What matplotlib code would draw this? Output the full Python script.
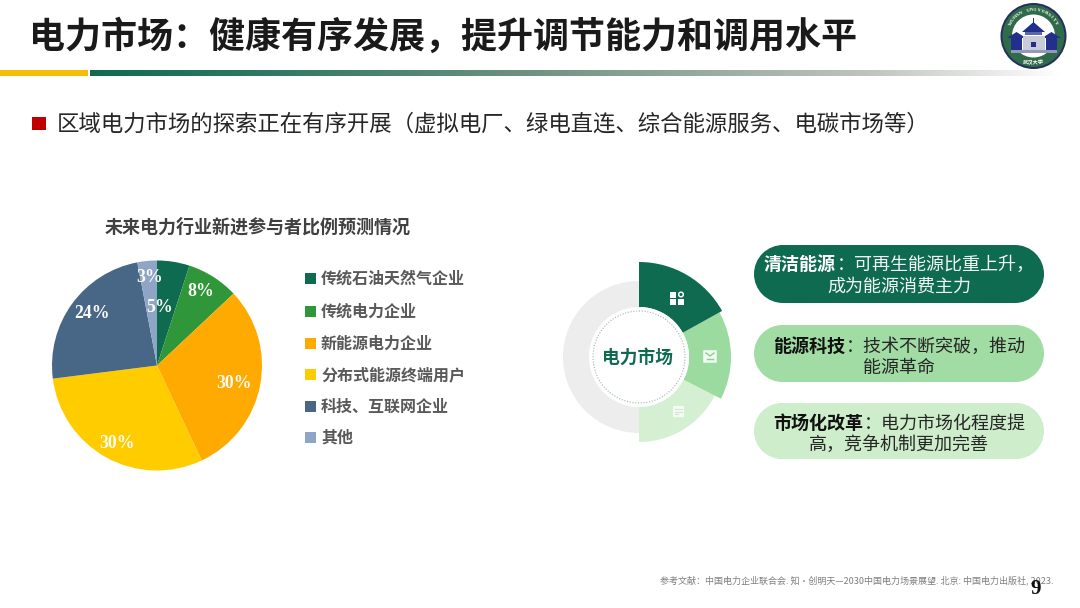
import numpy as np
import matplotlib
matplotlib.use("Agg")
import matplotlib.pyplot as plt
from matplotlib.patches import Circle, FancyBboxPatch, Polygon, Rectangle, Wedge

plt.rcParams["font.family"] = ["Noto Sans CJK SC", "DejaVu Sans"]

W, H = 1080, 608

# chart data
categories = ["传统石油天然气企业", "传统电力企业", "新能源电力企业", "分布式能源终端用户", "科技、互联网企业", "其他"]
shares = [5, 8, 30, 30, 24, 3]
pie_colors = ["#0F6B50", "#2F9639", "#FFAA00", "#FFCC00", "#486787", "#8EA5C6"]

title = "电力市场：健康有序发展，提升调节能力和调用水平"
subtitle = "区域电力市场的探索正在有序开展（虚拟电厂、绿电直连、综合能源服务、电碳市场等）"
pie_title = "未来电力行业新进参与者比例预测情况"
ring_title = "电力市场"
reference = "参考文献：中国电力企业联合会. 知·创明天—2030中国电力场景展望. 北京: 中国电力出版社, 2023."
page_no = "9"

# pill text: bold head, rest of the first line, second line
pill_heads = ["清洁能源", "能源科技", "市场化改革"]
pill_rest = ["：可再生能源比重上升，", "：技术不断突破，推动", "：电力市场化程度提"]
pill_second = ["成为能源消费主力", "能源革命", "高，竞争机制更加完善"]

fig = plt.figure(figsize=(W / 100, H / 100), dpi=100, facecolor="white")

# whole page axes in pixel coordinates, y down like the screenshot
page = fig.add_axes([0, 0, 1, 1])
page.axis("off")

page.text(29, 37, title, fontsize=25.95, fontweight="bold", color="#1A1A1A", va="center", ha="left")

# header rule: gold block, then green fading out to white
page.add_patch(Rectangle((0, 70), 88, 6, color="#F7BC0A", lw=0))
stops = np.array([0.0, 0.2, 0.45, 0.8, 1.0])
rgb = np.array([[15, 107, 80], [50, 122, 100], [110, 145, 130], [190, 195, 190], [255, 255, 255]]) / 255
t = np.linspace(0, 1, 400)
fade = np.stack([np.interp(t, stops, rgb[:, i]) for i in range(3)], axis=-1)[None, :, :]
page.imshow(fade, extent=(90, 1062, 76, 70), aspect="auto", zorder=1)
page.set_xlim(0, W)
page.set_ylim(H, 0)

page.add_patch(Rectangle((32, 117), 14, 13, color="#C00000", lw=0))
page.text(57, 124, subtitle, fontsize=16.15, color="#262626", va="center", ha="left")

# pie chart
page.text(257.5, 227, pie_title, fontsize=13, fontweight="bold", color="#404040", ha="center", va="center")
cx, cy, r = 157, 365.5, 105
pie_ax = fig.add_axes([(cx - r) / W, 1 - (cy + r) / H, 2 * r / W, 2 * r / H])
pie_ax.pie(shares, colors=pie_colors, startangle=90, counterclock=False, radius=1,
           wedgeprops={"linewidth": 0})
pie_ax.set_xlim(-1, 1)
pie_ax.set_ylim(-1, 1)

label_xy = [(160, 308), (201, 291), (234, 383), (117, 444), (92, 314), (150, 277)]
for v, (x, y) in zip(shares, label_xy):
    page.text(x, y, f"{v}%", family="Liberation Serif", fontweight="bold", fontsize=12.8,
              color="#FBFBF5", ha="center", va="center", zorder=5)
page.set_zorder(3)
page.patch.set_alpha(0)

legend_y = [278, 311, 343, 374, 406, 437]
for name, col, y in zip(categories, pie_colors, legend_y):
    page.add_patch(Rectangle((305, y - 5.5), 11, 11, color=col, lw=0))
    page.text(321, y + 1, name, fontsize=11.5, fontweight="bold", color="#595959", va="center", ha="left")

# ring diagram, y axis is flipped so wedge angles run clockwise on screen
rx, ry = 639, 357
page.add_patch(Wedge((rx, ry), 76, 90, 270, width=29, color="#EDEDED", lw=0))
page.add_patch(Wedge((rx, ry), 85, 27, 90, width=37, color="#D5EFD3", lw=0))
page.add_patch(Wedge((rx, ry), 92, -29, 27, width=42, color="#9BDB9F", lw=0))
page.add_patch(Wedge((rx, ry), 95, -90, -29, width=45, color="#0F6B50", lw=0))
page.add_patch(Circle((rx, ry), 50, color="white", lw=0, zorder=2))
page.add_patch(Circle((rx, ry), 46, fill=False, ec="#9DB8AA", lw=0.8, ls=(0, (1, 1.5)), zorder=3))
page.text(rx - 1, ry + 1, ring_title, fontsize=12.8, fontweight="bold", color="#0F6B50",
          ha="center", va="center", zorder=4)

# small white icons on the ring
for ix, iy in [(670, 292), (670, 299), (678, 299)]:
    page.add_patch(Rectangle((ix, iy), 6, 6, color="white", lw=0, zorder=4))
page.add_patch(Circle((681, 294.5), 2.3, fc="none", ec="white", lw=1.1, zorder=4))
page.add_patch(FancyBboxPatch((704, 351), 12, 11, boxstyle="round,pad=0.8", color="#F0FAF0", lw=0, zorder=4))
page.plot([706, 710, 714], [353, 356, 353], color="#8CCF90", lw=1, zorder=5)
page.plot([707, 713], [359, 359], color="#8CCF90", lw=1, zorder=5)
page.add_patch(FancyBboxPatch((673.5, 406.5), 10, 10, boxstyle="round,pad=0.6", color="#F4FBF4", lw=0, zorder=4))
for y, xe in [(409, 682), (411.5, 682), (414, 678)]:
    page.plot([675, xe], [y, y], color="#CFE8CE", lw=0.8, zorder=5)

# pills on the right
pill_tops = [245, 325, 403]
pill_bottoms = [303, 382, 459]
line_one = [264.5, 346.5, 423.5]
line_two = [286.5, 367.5, 444.5]
pill_fill = ["#0F6B50", "#A1DCA5", "#CDEDCB"]
pill_text = ["#F2F7F4", "#262626", "#262626"]
pill_head = ["white", "#111111", "#111111"]
head_x = [764, 773, 773]
rest_x = [837, 846, 864]
x0, x1 = 754, 1044
for i in range(3):
    top, bot = pill_tops[i], pill_bottoms[i]
    rad = (bot - top) / 2
    page.add_patch(Rectangle((x0 + rad, top), x1 - x0 - 2 * rad, bot - top, color=pill_fill[i], lw=0))
    page.add_patch(Circle((x0 + rad, top + rad), rad, color=pill_fill[i], lw=0))
    page.add_patch(Circle((x1 - rad, top + rad), rad, color=pill_fill[i], lw=0))
    page.text(head_x[i], line_one[i], pill_heads[i], fontsize=13, fontweight="bold", color=pill_head[i],
              va="center", ha="left")
    page.text(rest_x[i], line_one[i], pill_rest[i], fontsize=13, color=pill_text[i], va="center", ha="left")
    page.text((x0 + x1) / 2, line_two[i], pill_second[i], fontsize=13, color=pill_text[i], va="center", ha="center")

# footer, the page number sits right under the end of the reference line
page.text(660, 580, reference, fontsize=6.5, color="#7F7F7F", va="center", ha="left")
page.text(1036, 589, page_no, family="Liberation Serif", fontweight="bold", fontsize=15,
          color="#111111", va="center", ha="center")

# university seal, drawn roughly
sx, sy = 1033.5, 36
page.add_patch(Circle((sx, sy), 33, color="#23305E", lw=0))
page.add_patch(Circle((sx, sy), 31, color="#2F6B48", lw=0))
page.add_patch(Circle((sx, sy), 21.5, color="white", lw=0))
for ch, a in zip("WUHAN UNIVERSITY", np.linspace(150, 30, 16)):
    page.text(sx + 26 * np.cos(np.radians(a)), sy - 26 * np.sin(np.radians(a)), ch, fontsize=3.8,
              family="Liberation Serif", fontweight="bold", color="white", rotation=a - 90,
              ha="center", va="center")
blue = "#232F8C"
page.add_patch(Rectangle((1011, 38), 11, 12, color=blue, lw=0))
page.add_patch(Rectangle((1046, 38), 11, 12, color=blue, lw=0))
page.add_patch(Polygon([(1007, 38), (1016.5, 32), (1026, 38)], color=blue, lw=0))
page.add_patch(Polygon([(1042, 38), (1051.5, 32), (1061, 38)], color=blue, lw=0))
page.add_patch(Polygon([(1022, 32), (1033.5, 22), (1045, 32)], color=blue, lw=0))
page.add_patch(Rectangle((1032.7, 18), 1.6, 6, color=blue, lw=0))
page.add_patch(Rectangle((1025, 32), 17, 3, color="#5C67A8", lw=0))
page.add_patch(Rectangle((1023, 36), 22, 14, color="#C9CCD8", lw=0))
page.add_patch(Rectangle((1031, 42), 5, 5, color=blue, lw=0))
page.add_patch(Rectangle((1011, 50), 46, 3, color="#9297BB", lw=0))
page.text(sx, 63, "武汉大学", fontsize=3.8, fontweight="bold", color="white", ha="center", va="center")

fig.savefig("out.png", dpi=100)
